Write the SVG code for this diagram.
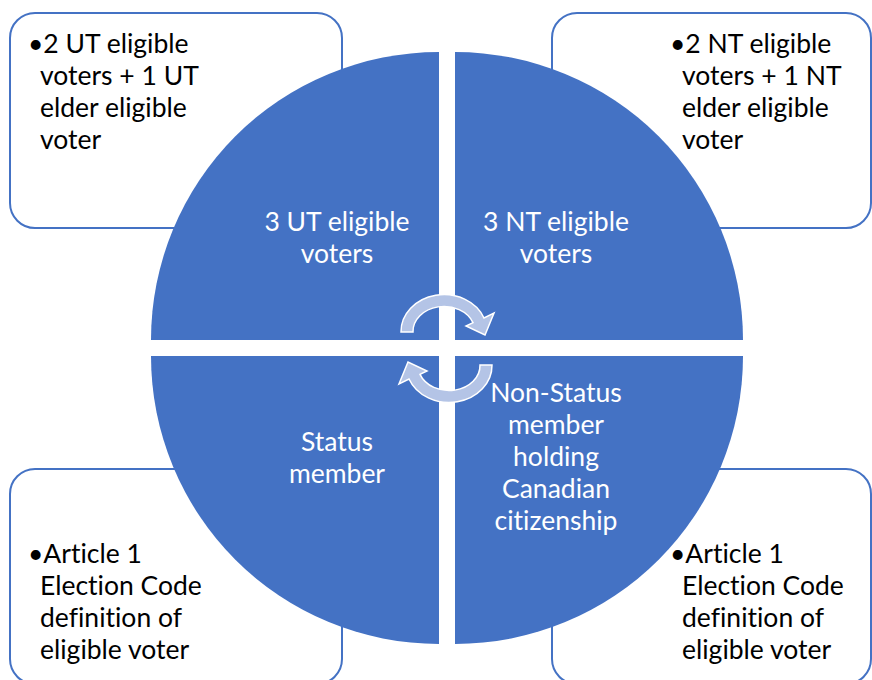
<svg xmlns="http://www.w3.org/2000/svg" width="872" height="680" viewBox="0 0 872 680">
<style>
.box{fill:#ffffff;stroke:#4472C4;stroke-width:2}
.q{fill:#4472C4}
.arr{fill:#B4C4E6;stroke:#ffffff;stroke-width:1.5;stroke-linejoin:miter}
.bt{font-family:Lato,"Liberation Sans",sans-serif;font-size:26.5px;fill:#000000;font-variant-ligatures:none;font-feature-settings:"liga" 0,"dlig" 0}
.qt{font-family:Lato,"Liberation Sans",sans-serif;font-size:26.5px;fill:#ffffff;text-anchor:middle;font-variant-ligatures:none;font-feature-settings:"liga" 0,"dlig" 0}
</style>
<defs>
<path id="arrowShape" d="M401,332 A43,37 0 0 1 484,318 L494,313 L485,335 L466,326 L473,322.6 A31,25 0 0 0 413,332 Z"/>
</defs>
<rect width="872" height="680" fill="#ffffff"/>
<g id="box-tl">
<rect class="box" x="10" y="13" width="332" height="215" rx="25" ry="25"/>
<text class="bt"><tspan x="28" y="53">•2 UT eligible</tspan><tspan x="40" y="85">voters + 1 UT</tspan><tspan x="40" y="117">elder eligible</tspan><tspan x="40" y="149">voter</tspan></text>
</g>
<g id="box-tr">
<rect class="box" x="552" y="13" width="319" height="215" rx="25" ry="25"/>
<text class="bt"><tspan x="670" y="53">•2 NT eligible</tspan><tspan x="682" y="85">voters + 1 NT</tspan><tspan x="682" y="117">elder eligible</tspan><tspan x="682" y="149">voter</tspan></text>
</g>
<g id="box-bl">
<rect class="box" x="10" y="469" width="332" height="215" rx="25" ry="25"/>
<text class="bt"><tspan x="28" y="563">•Article 1</tspan><tspan x="40" y="595">Election Code</tspan><tspan x="40" y="627">definition of</tspan><tspan x="40" y="659">eligible voter</tspan></text>
</g>
<g id="box-br">
<rect class="box" x="552" y="469" width="319" height="215" rx="25" ry="25"/>
<text class="bt"><tspan x="670" y="563">•Article 1</tspan><tspan x="682" y="595">Election Code</tspan><tspan x="682" y="627">definition of</tspan><tspan x="682" y="659">eligible voter</tspan></text>
</g>
<g id="quad-tl">
<path class="q" d="M439,340 L151,340 A288,288 0 0 1 439,52 Z"/>
<text class="qt"><tspan x="337" y="231">3 UT eligible</tspan><tspan x="337" y="263">voters</tspan></text>
</g>
<g id="quad-tr">
<path class="q" d="M455,340 L455,52 A288,288 0 0 1 743,340 Z"/>
<text class="qt"><tspan x="556" y="231">3 NT eligible</tspan><tspan x="556" y="263">voters</tspan></text>
</g>
<g id="quad-bl">
<path class="q" d="M439,356 L439,644 A288,288 0 0 1 151,356 Z"/>
<text class="qt"><tspan x="337" y="451">Status</tspan><tspan x="337" y="483">member</tspan></text>
</g>
<g id="quad-br">
<path class="q" d="M455,356 L743,356 A288,288 0 0 1 455,644 Z"/>
<text class="qt"><tspan x="556" y="402">Non-Status</tspan><tspan x="556" y="434">member</tspan><tspan x="556" y="466">holding</tspan><tspan x="556" y="498">Canadian</tspan><tspan x="556" y="530">citizenship</tspan></text>
</g>
<g id="connectors">
<use href="#arrowShape" class="arr"/>
<use href="#arrowShape" class="arr" transform="rotate(180 446.5 348.5)"/>
</g>
</svg>
